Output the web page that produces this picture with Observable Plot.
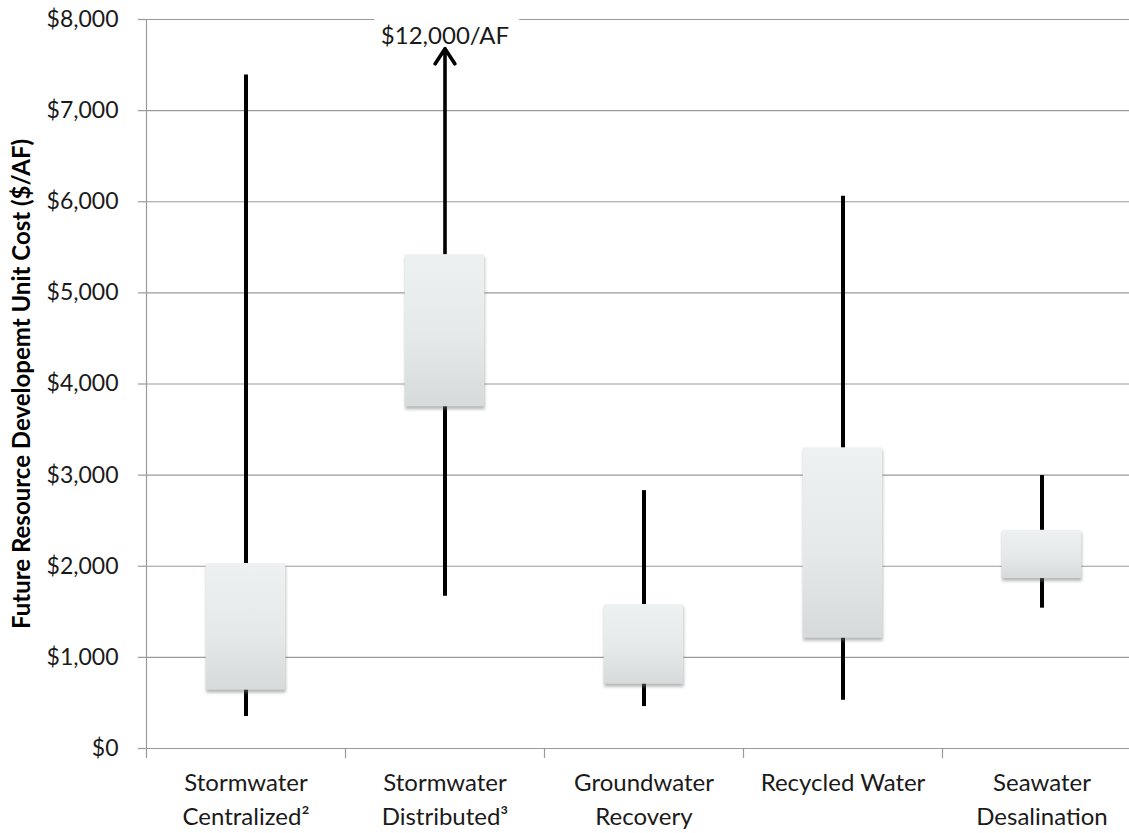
<!DOCTYPE html>
<html>
<head>
<meta charset="utf-8">
<script src="https://cdn.jsdelivr.net/npm/d3@7"></script>
<script src="https://cdn.jsdelivr.net/npm/@observablehq/plot@0.6"></script>
<style>
  html, body { margin: 0; padding: 0; background: #fff; }
  #chart svg { display: block; }
</style>
</head>
<body>
<div id="chart"></div>
<script>
// ---- data ----
const categories = [
  "Stormwater\nCentralized\u00B2",
  "Stormwater\nDistributed\u00B3",
  "Groundwater\nRecovery",
  "Recycled Water",
  "Seawater\nDesalination"
];
const whiskerLow  = [350, 1670, 460, 530, 1540];
const boxLow      = [640, 3750, 705, 1210, 1865];
const boxHigh     = [2030, 5420, 1580, 3300, 2395];
const whiskerHigh = [7390, 12000, 2830, 6060, 2995];
const yTicks = [0, 1000, 2000, 3000, 4000, 5000, 6000, 7000, 8000];
const yMax = 8000;
const offScaleCap = 7680;   // where the arrow of an off-scale maximum stops
const yLabel = "Future Resource Developemt Unit Cost ($/AF)";

const fmt = d => "$" + d3.format(",")(d);
const rows = categories.map((c, i) => ({
  i, c, center: i + 0.5,
  lo: whiskerLow[i], q1: boxLow[i], q3: boxHigh[i], hi: whiskerHigh[i],
  off: whiskerHigh[i] > yMax
}));
const offRows = rows.filter(d => d.off);

const grid = "#9a9a9a";
const font = "Lato, 'Open Sans', sans-serif";

const defs = () => {
  const g = d3.create("svg:defs");
  const lg = g.append("linearGradient").attr("id", "boxgrad")
    .attr("x1", 0).attr("y1", 0).attr("x2", 0).attr("y2", 1);
  lg.append("stop").attr("offset", "0%").attr("stop-color", "#eef1f1");
  lg.append("stop").attr("offset", "55%").attr("stop-color", "#e6e9e9");
  lg.append("stop").attr("offset", "100%").attr("stop-color", "#d6dada");
  return g.node();
};

const chart = Plot.plot({
  width: 1129,
  height: 833,
  marginLeft: 146,
  marginTop: 19,
  marginBottom: 85,
  marginRight: 0,
  style: { fontFamily: font, fontSize: "23px", color: "#1a1a1a", background: "white", overflow: "visible" },
  x: { type: "linear", domain: [0, 5], range: [146, 1141], axis: null },
  y: { domain: [0, yMax], axis: null },
  marks: [
    defs,
    Plot.ruleY(yTicks, { x1: 0, x2: 5, stroke: grid, strokeWidth: 1.2 }),
    Plot.ruleX([0], { y1: 0, y2: yMax, stroke: grid, strokeWidth: 1.2 }),
    Plot.axisY({ ticks: yTicks, tickSize: 8, tickFormat: () => "", label: null, stroke: grid, color: grid, strokeWidth: 1.2 }),
    Plot.axisX({ ticks: [0, 1, 2, 3, 4, 5], tickSize: 10, tickFormat: () => "", label: null, stroke: grid, color: grid, strokeWidth: 1.2 }),
    Plot.text(yTicks, { x: 0, y: d => d, text: fmt, textAnchor: "end", dx: -28, fontSize: 23, fill: "#1a1a1a" }),
    Plot.text(rows, { x: "center", y: 0, text: "c", lineAnchor: "top", dy: 18, lineHeight: 1.42, fontSize: 24, fill: "#1a1a1a" }),
    Plot.text([yLabel], { frameAnchor: "left", textAnchor: "middle", lineAnchor: "middle", dx: -124, rotate: -90,
      fontWeight: "bold", fontSize: 24, fill: "#000", style: "letter-spacing:0.8px" }),
    // off-scale label (white halo breaks the top gridline)
    Plot.text(offRows, { x: "center", frameAnchor: "top", lineAnchor: "middle", dy: 17, text: d => fmt(d.hi) + "/AF",
      fill: "#1a1a1a", stroke: "white", strokeWidth: 26, strokeLinejoin: "round", paintOrder: "stroke", fontSize: 24 }),
    // whiskers
    Plot.ruleX(rows, { x: "center", y1: "lo", y2: "hi", stroke: "black", strokeWidth: 4, filter: d => !d.off }),
    Plot.ruleX(offRows, { x: "center", y1: "lo", y2: "q3", stroke: "black", strokeWidth: 4 }),
    Plot.arrow(offRows, { x1: "center", x2: "center", y1: "q3", y2: () => offScaleCap,
      stroke: "black", strokeWidth: 3.6, headLength: 7.5, headAngle: 66 }),
    // box shadow
    Plot.rect(rows, { x1: d => d.center - 0.2, x2: d => d.center + 0.2, y1: "q1", y2: "q3",
      fill: "#6f7373", fillOpacity: 0.5, dy: 3, dx: 0.5, imageFilter: "blur(1.5px)" }),
    // box
    Plot.rect(rows, { x1: d => d.center - 0.2, x2: d => d.center + 0.2, y1: "q1", y2: "q3",
      fill: "url(#boxgrad)" })
  ]
});
document.getElementById("chart").appendChild(chart);
</script>
</body>
</html>
